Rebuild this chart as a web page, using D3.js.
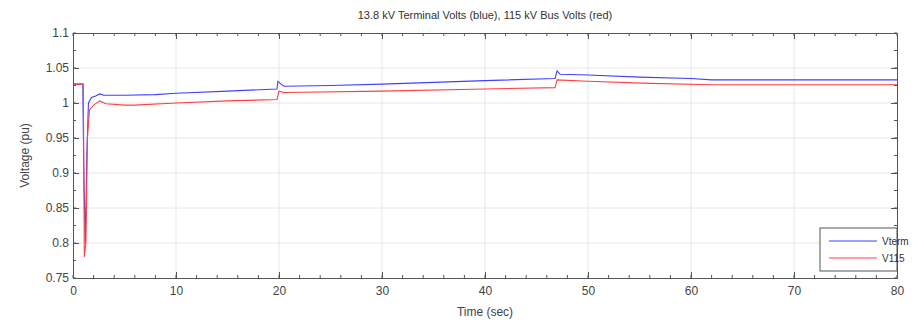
<!DOCTYPE html>
<html>
<head>
<meta charset="utf-8">
<script src="https://cdn.jsdelivr.net/npm/d3@7"></script>
<style>
    body { margin: 0; background: #fff; }
    svg { font-family: "Liberation Sans", Arial, sans-serif; }
</style>
</head>
<body>
<svg id="chart"></svg>
<script>
// values
var vtermTime = [0, 0.95, 1.05, 1.2, 1.35, 1.5, 1.8, 2.2, 2.6, 3.0, 5, 8, 10, 15, 19.8, 19.9, 20.2, 20.5, 25, 30, 40, 46.8, 47, 47.3, 50, 55, 60, 62, 80]
var vtermVolts = [1.027, 1.027, 0.90, 0.80, 0.93, 1.000, 1.008, 1.010, 1.013, 1.011, 1.011, 1.012, 1.014, 1.017, 1.020, 1.031, 1.027, 1.024, 1.025, 1.027, 1.032, 1.035, 1.046, 1.041, 1.040, 1.037, 1.035, 1.033, 1.033]

var v115Time = [0, 1.0, 1.05, 1.1, 1.25, 1.4, 1.6, 2.0, 2.6, 3.2, 5, 6, 10, 15, 19.8, 20, 20.5, 30, 40, 46.8, 47, 50, 56, 62, 80]
var v115Volts = [1.027, 1.027, 0.90, 0.78, 0.80, 0.95, 0.990, 0.997, 1.003, 0.999, 0.997, 0.997, 1.000, 1.003, 1.005, 1.017, 1.015, 1.017, 1.020, 1.022, 1.033, 1.031, 1.028, 1.026, 1.026]

var xTicks = [0, 10, 20, 30, 40, 50, 60, 70, 80]
var yTicks = [0.75, 0.8, 0.85, 0.9, 0.95, 1, 1.05, 1.1]
var seriesNames = ["Vterm", "V115"]
var seriesColors = ["#4040ff", "#ff4040"]

var dimensions = {
    width: 919,
    height: 320,
    margin: { top: 33, bottom: 42, right: 22, left: 73 }
}

var svg = d3.select("#chart")
    .attr("width", dimensions.width)
    .attr("height", dimensions.height)

var xScale = d3.scaleLinear()
    .domain([0, 80])
    .range([dimensions.margin.left, dimensions.width - dimensions.margin.right])

var yScale = d3.scaleLinear()
    .domain([0.75, 1.1])
    .range([dimensions.height - dimensions.margin.bottom, dimensions.margin.top])

var x0 = xScale.range()[0], x1 = xScale.range()[1]
var y0 = yScale.range()[0], y1 = yScale.range()[1]

// grid
svg.append("g")
    .selectAll("line")
    .data(xTicks.slice(1, -1))
    .enter()
    .append("line")
    .attr("x1", d => xScale(d)).attr("x2", d => xScale(d))
    .attr("y1", y1).attr("y2", y0)
    .attr("stroke", "#e6e6e6")
svg.append("g")
    .selectAll("line")
    .data(yTicks.slice(1, -1))
    .enter()
    .append("line")
    .attr("x1", x0).attr("x2", x1)
    .attr("y1", d => yScale(d)).attr("y2", d => yScale(d))
    .attr("stroke", "#e6e6e6")

// lines
var line = d3.line()
    .x(d => xScale(d[0]))
    .y(d => yScale(d[1]))

var series = [
    d3.zip(vtermTime, vtermVolts),
    d3.zip(v115Time, v115Volts)
]

svg.append("g")
    .selectAll("path")
    .data(series)
    .enter()
    .append("path")
    .attr("d", line)
    .attr("fill", "none")
    .attr("stroke", (d, i) => seriesColors[i])
    .attr("stroke-width", 1.1)

// minor ticks
var xMinor = d3.range(0, 81, 2)
var yMinor = d3.range(0.75, 1.1001, 0.025)

// axes with inward ticks on all four sides
var xAxis = d3.axisBottom(xScale).tickValues(xTicks).tickSize(-6).tickPadding(8)
var yAxis = d3.axisLeft(yScale).tickValues(yTicks).tickSize(-6).tickPadding(4)
    .tickFormat(d => d3.format("")(+d.toFixed(2)))

var frameColor = "#555"
var minorG = svg.append("g").attr("stroke", frameColor)
minorG.selectAll(".xb").data(xMinor).enter().append("line")
    .attr("x1", d => xScale(d)).attr("x2", d => xScale(d))
    .attr("y1", y0).attr("y2", y0 - 3)
minorG.selectAll(".xt").data(xMinor).enter().append("line")
    .attr("x1", d => xScale(d)).attr("x2", d => xScale(d))
    .attr("y1", y1).attr("y2", y1 + 3)
minorG.selectAll(".yl").data(yMinor).enter().append("line")
    .attr("x1", x0).attr("x2", x0 + 3)
    .attr("y1", d => yScale(d)).attr("y2", d => yScale(d))
minorG.selectAll(".yr").data(yMinor).enter().append("line")
    .attr("x1", x1).attr("x2", x1 - 3)
    .attr("y1", d => yScale(d)).attr("y2", d => yScale(d))

svg.append("g")
    .attr("class", "x-axis")
    .attr("transform", "translate(0," + y0 + ")")
    .call(xAxis)
svg.append("g")
    .attr("class", "x-axis-top")
    .attr("transform", "translate(0," + y1 + ")")
    .call(d3.axisTop(xScale).tickValues(xTicks).tickSize(-6).tickFormat(""))
svg.append("g")
    .attr("class", "y-axis")
    .attr("transform", "translate(" + x0 + ",0)")
    .call(yAxis)
svg.append("g")
    .attr("class", "y-axis-right")
    .attr("transform", "translate(" + x1 + ",0)")
    .call(d3.axisRight(yScale).tickValues(yTicks).tickSize(-6).tickFormat(""))

svg.selectAll(".domain, .tick line").attr("stroke", frameColor)
svg.selectAll(".tick text")
    .attr("fill", "#444")
    .style("font-size", "12px")
    .style("font-family", "'Liberation Sans', Arial, sans-serif")

// title and labels
svg.append("text")
    .attr("x", (x0 + x1) / 2)
    .attr("y", 19)
    .attr("text-anchor", "middle")
    .attr("fill", "#333")
    .style("font-size", "11px")
    .text("13.8 kV Terminal Volts (blue), 115 kV Bus Volts (red)")

svg.append("text")
    .attr("x", (x0 + x1) / 2)
    .attr("y", 316)
    .attr("text-anchor", "middle")
    .attr("fill", "#444")
    .style("font-size", "12px")
    .text("Time (sec)")

svg.append("text")
    .attr("transform", "translate(29," + ((y0 + y1) / 2) + ") rotate(-90)")
    .attr("text-anchor", "middle")
    .attr("fill", "#444")
    .style("font-size", "12px")
    .text("Voltage (pu)")

// legend
var legend = svg.append("g")
    .attr("transform", "translate(820,228)")
legend.append("rect")
    .attr("width", 77)
    .attr("height", 43)
    .attr("fill", "#fff")
    .attr("stroke", frameColor)
var items = legend.selectAll(".item")
    .data(seriesNames)
    .enter()
    .append("g")
    .attr("transform", (d, i) => "translate(0," + (13 + i * 17) + ")")
items.append("line")
    .attr("x1", 9).attr("x2", 57)
    .attr("stroke", (d, i) => seriesColors[i])
items.append("text")
    .attr("x", 62)
    .attr("dy", "0.35em")
    .attr("fill", "#333")
    .style("font-size", "10px")
    .text(d => d)
</script>
</body>
</html>
